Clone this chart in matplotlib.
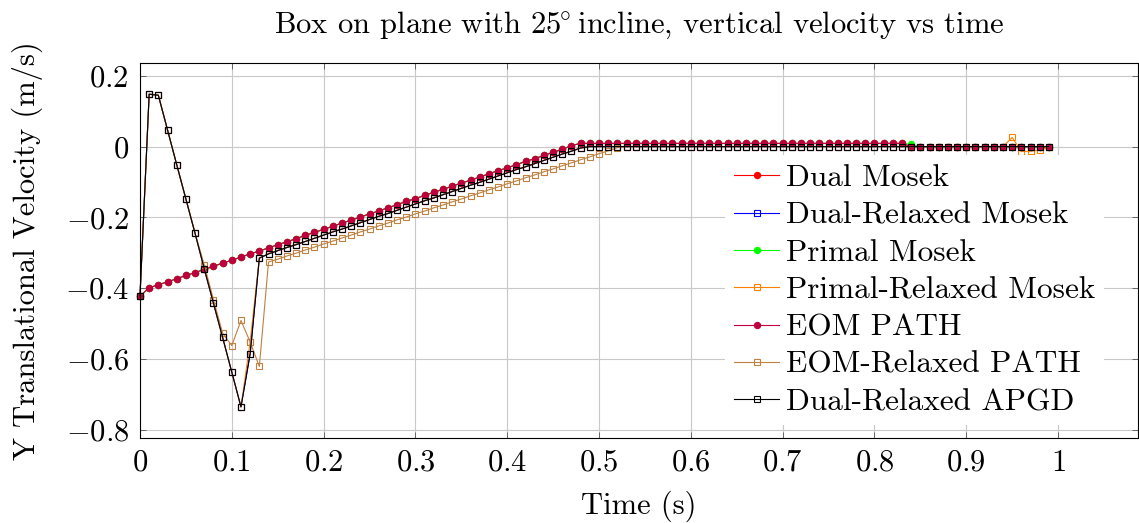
import numpy as np
import matplotlib
matplotlib.use("Agg")
import matplotlib.pyplot as plt
from matplotlib.ticker import FixedLocator, FuncFormatter

plt.rcParams["font.family"] = ["cmr10", "DejaVu Serif"]
plt.rcParams["mathtext.fontset"] = "cm"
plt.rcParams["axes.formatter.use_mathtext"] = True

# time steps (s)
time = np.round(np.arange(100) * 0.01, 2)

# smooth solutions (Dual Mosek / Primal Mosek / EOM PATH)
smooth = [
    -0.422, -0.399, -0.390, -0.382, -0.373, -0.364, -0.356, -0.347, -0.338, -0.329,
    -0.321, -0.312, -0.303, -0.295, -0.286, -0.277, -0.269, -0.260, -0.251, -0.242,
    -0.234, -0.225, -0.216, -0.208, -0.199, -0.190, -0.182, -0.173, -0.164, -0.155,
    -0.147, -0.138, -0.129, -0.121, -0.112, -0.103, -0.095, -0.086, -0.077, -0.068,
    -0.060, -0.051, -0.042, -0.034, -0.025, -0.016, -0.008, 0.003, 0.009, 0.009,
    0.009, 0.009, 0.009, 0.009, 0.009, 0.009, 0.009, 0.009, 0.009, 0.009,
    0.009, 0.009, 0.009, 0.009, 0.009, 0.009, 0.009, 0.009, 0.009, 0.009,
    0.009, 0.009, 0.009, 0.009, 0.009, 0.009, 0.009, 0.009, 0.009, 0.009,
    0.009, 0.009, 0.009, 0.009, 0.000, 0.000, 0.000, 0.000, 0.000, 0.000,
    0.000, 0.000, 0.000, 0.000, 0.000, 0.000, 0.000, 0.000, 0.000, 0.000,
]
primal = list(smooth)
primal[84] = 0.006

# relaxed solutions (Dual-Relaxed Mosek / Dual-Relaxed APGD)
relaxed = [
    -0.422, 0.148, 0.145, 0.047, -0.051, -0.148, -0.245, -0.345, -0.442, -0.539,
    -0.637, -0.735, -0.585, -0.315, -0.303, -0.294, -0.285, -0.277, -0.268, -0.259,
    -0.250, -0.241, -0.233, -0.224, -0.215, -0.206, -0.197, -0.189, -0.180, -0.171,
    -0.162, -0.153, -0.145, -0.136, -0.127, -0.118, -0.109, -0.101, -0.092, -0.083,
    -0.074, -0.065, -0.057, -0.048, -0.039, -0.030, -0.021, -0.013, -0.004, 0.000,
    0.000, 0.000, 0.000, 0.000, 0.000, 0.000, 0.000, 0.000, 0.000, 0.000,
    0.000, 0.000, 0.000, 0.000, 0.000, 0.000, 0.000, 0.000, 0.000, 0.000,
    0.000, 0.000, 0.000, 0.000, 0.000, 0.000, 0.000, 0.000, 0.000, 0.000,
    0.000, 0.000, 0.000, 0.000, 0.000, 0.000, 0.000, 0.000, 0.000, 0.000,
    0.000, 0.000, 0.000, 0.000, 0.000, 0.000, 0.000, 0.000, 0.000, 0.000,
]
primal_relaxed = list(relaxed)
primal_relaxed[12] = -0.552
primal_relaxed[95:100] = [0.026, -0.014, -0.013, -0.010, -0.002]

eom_relaxed = [
    -0.422, 0.148, 0.145, 0.047, -0.051, -0.148, -0.245, -0.334, -0.432, -0.527,
    -0.562, -0.491, -0.552, -0.621, -0.326, -0.318, -0.309, -0.301, -0.292, -0.284,
    -0.275, -0.267, -0.258, -0.250, -0.241, -0.233, -0.224, -0.216, -0.207, -0.199,
    -0.190, -0.182, -0.173, -0.165, -0.156, -0.148, -0.139, -0.131, -0.122, -0.114,
    -0.105, -0.097, -0.088, -0.080, -0.071, -0.063, -0.054, -0.046, -0.037, -0.029,
    -0.020, -0.012, -0.003, 0.000, 0.000, 0.000, 0.000, 0.000, 0.000, 0.000,
    0.000, 0.000, 0.000, 0.000, 0.000, 0.000, 0.000, 0.000, 0.000, 0.000,
    0.000, 0.000, 0.000, 0.000, 0.000, 0.000, 0.000, 0.000, 0.000, 0.000,
    0.000, 0.000, 0.000, 0.000, 0.000, 0.000, 0.000, 0.000, 0.000, 0.000,
    0.000, 0.000, 0.000, 0.000, 0.000, 0.000, 0.000, 0.000, 0.000, 0.000,
]

series = [
    ("Dual Mosek", smooth, "#FF0000", "o"),
    ("Dual-Relaxed Mosek", relaxed, "#0000FF", "s"),
    ("Primal Mosek", primal, "#00FF00", "o"),
    ("Primal-Relaxed Mosek", primal_relaxed, "#FF8000", "s"),
    ("EOM PATH", smooth, "#BF0040", "o"),
    ("EOM-Relaxed PATH", eom_relaxed, "#BF8040", "s"),
    ("Dual-Relaxed APGD", relaxed, "#000000", "s"),
]

fig = plt.figure(figsize=(11.39, 5.23), dpi=100)
ax = fig.add_axes([0.1229, 0.1625, 0.8762, 0.717])

for label, vals, color, mk in series:
    if mk == "o":
        ax.plot(time, vals, color=color, lw=0.8, marker="o", ms=4.3,
                mfc=color, mec=color, label=label, clip_on=False)
    else:
        ax.plot(time, vals, color=color, lw=0.8, marker="s", ms=5,
                mfc="none", mec=color, mew=0.8, label=label, clip_on=False)

ax.set_xlim(0, 1.087)
ax.set_ylim(-0.823, 0.236)
ax.xaxis.set_major_locator(FixedLocator([0, 0.1, 0.2, 0.3, 0.4, 0.5, 0.6, 0.7, 0.8, 0.9, 1.0]))
ax.yaxis.set_major_locator(FixedLocator([-0.8, -0.6, -0.4, -0.2, 0, 0.2]))
fmt = FuncFormatter(lambda v, pos: "$%s$" % ("%g" % round(v, 2)))
ax.xaxis.set_major_formatter(fmt)
ax.yaxis.set_major_formatter(fmt)
ax.tick_params(direction="in", top=True, right=True, length=4, width=0.6,
               color="#555555", labelsize=22, pad=8)
ax.grid(True, color="#C8C8C8", lw=0.8)
ax.set_axisbelow(True)
for s in ax.spines.values():
    s.set_linewidth(0.8)

ax.set_title(r"Box on plane with $25^{\!\!\circ}\!\!$ incline, vertical velocity vs time",
             fontsize=22, pad=22)
ax.set_xlabel("Time (s)", fontsize=22, labelpad=10)
ax.set_ylabel("Y Translational Velocity (m/s)", fontsize=22, labelpad=16)

leg = ax.legend(loc="upper left", bbox_to_anchor=(0.586, 0.755), frameon=True,
                fontsize=22.5, handlelength=1.45, handletextpad=0.2,
                labelspacing=0.3, borderaxespad=0, borderpad=0.3,
                fancybox=False, framealpha=1)
leg.get_frame().set_facecolor("white")
leg.get_frame().set_edgecolor("none")

fig.savefig("out.png", dpi=100)
